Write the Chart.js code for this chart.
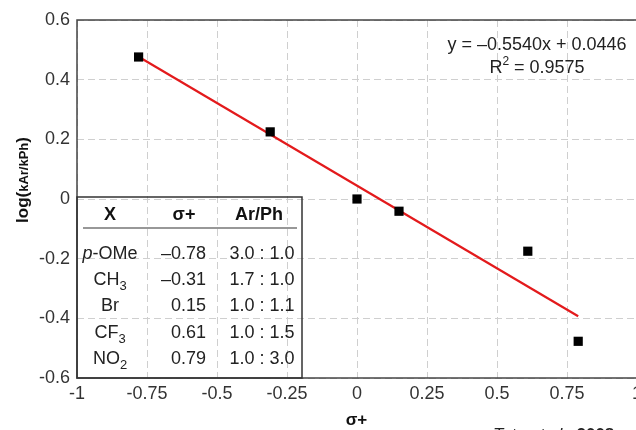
<!DOCTYPE html>
<html>
<head>
<meta charset="utf-8">
<script src="https://cdn.jsdelivr.net/npm/chart.js@4/dist/chart.umd.min.js"></script>
<style>
  html, body { margin: 0; padding: 0; overflow: hidden; background: #fff; }
  canvas { display: block; }
</style>
</head>
<body>
<canvas id="hammett" width="660" height="430"></canvas>
<script>
// measured points (sigma+ vs log(kAr/kPh))
var sigmaPlus = [-0.78, -0.31, 0, 0.15, 0.61, 0.79];
var logRatio = [0.476, 0.225, 0, -0.041, -0.175, -0.477];

// regression line ends
var fitX = [-0.78, 0.79];
var fitY = [0.477, -0.393];

var xTicks = [-1, -0.75, -0.5, -0.25, 0, 0.25, 0.5, 0.75, 1];
var yTicks = [-0.6, -0.4, -0.2, 0, 0.2, 0.4, 0.6];

// inset table
var tblHead = ['X', 'σ+', 'Ar/Ph'];
var tblX = [['p', '-OMe', ''], ['CH', '', '3'], ['Br', '', ''], ['CF', '', '3'], ['NO', '', '2']];
var tblSigma = ['–0.78', '–0.31', '0.15', '0.61', '0.79'];
var tblRatio = ['3.0 : 1.0', '1.7 : 1.0', '1.0 : 1.1', '1.0 : 1.5', '1.0 : 3.0'];

var FONT = '"Liberation Sans", Arial, sans-serif';

var extras = {
  id: 'extras',
  afterDraw: function (chart) {
    var c = chart.ctx, a = chart.chartArea;
    var xs = chart.scales.x, ys = chart.scales.y;
    c.save();

    // plot frame
    c.strokeStyle = '#444';
    c.lineWidth = 1.5;
    c.strokeRect(a.left, a.top, a.right - a.left, a.bottom - a.top);

    // equation
    c.fillStyle = '#222';
    c.font = '18px ' + FONT;
    c.textAlign = 'center';
    c.textBaseline = 'alphabetic';
    c.fillText('y = –0.5540x + 0.0446', 537, 50);
    var w1 = c.measureText('R').width, w2 = c.measureText(' = 0.9575').width;
    c.font = '12px ' + FONT;
    var ws = c.measureText('2').width;
    var sx = 537 - (w1 + ws + w2) / 2;
    c.textAlign = 'left';
    c.font = '18px ' + FONT;
    c.fillText('R', sx, 73);
    c.font = '12px ' + FONT;
    c.fillText('2', sx + w1, 65);
    c.font = '18px ' + FONT;
    c.fillText(' = 0.9575', sx + w1 + ws, 73);

    // inset table
    var tl = a.left, tt = ys.getPixelForValue(0) - 2, tr = 302, tb = a.bottom;
    c.strokeStyle = '#333';
    c.lineWidth = 1.5;
    c.strokeRect(tl, tt, tr - tl, tb - tt);
    c.lineWidth = 1.2;
    c.beginPath();
    c.moveTo(83, 228); c.lineTo(297, 228);
    c.stroke();

    c.fillStyle = '#111';
    c.font = 'bold 18px ' + FONT;
    c.textAlign = 'center';
    c.fillText(tblHead[0], 110, 220);
    c.fillText(tblHead[1], 184, 220);
    c.fillText(tblHead[2], 259, 220);

    c.fillStyle = '#222';
    for (var i = 0; i < tblX.length; i++) {
      var y = 259 + i * 26.2;
      var parts = tblX[i];
      c.font = (i === 0 ? 'italic ' : '') + '18px ' + FONT;
      var wa = c.measureText(parts[0]).width;
      c.font = '18px ' + FONT;
      var wb = c.measureText(parts[1]).width;
      c.font = '13px ' + FONT;
      var wc = c.measureText(parts[2]).width;
      var x0 = 110 - (wa + wb + wc) / 2;
      c.textAlign = 'left';
      c.font = (i === 0 ? 'italic ' : '') + '18px ' + FONT;
      c.fillText(parts[0], x0, y);
      c.font = '18px ' + FONT;
      c.fillText(parts[1], x0 + wa, y);
      c.font = '13px ' + FONT;
      c.fillText(parts[2], x0 + wa + wb, y + 5);

      c.font = '18px ' + FONT;
      c.textAlign = 'right';
      c.fillText(tblSigma[i], 206, y);
      c.textAlign = 'center';
      c.fillText(tblRatio[i], 262, y);
    }

    // y axis title with small kAr / kPh
    c.save();
    c.translate(28, 180);
    c.rotate(-Math.PI / 2);
    var segs = [['log(', 17], ['kAr/kPh', 13], [')', 17]];
    var tw = 0;
    segs.forEach(function (s) { c.font = 'bold ' + s[1] + 'px ' + FONT; tw += c.measureText(s[0]).width; });
    var px = -tw / 2;
    c.textAlign = 'left';
    c.fillStyle = '#111';
    segs.forEach(function (s) {
      c.font = 'bold ' + s[1] + 'px ' + FONT;
      c.fillText(s[0], px, 0);
      px += c.measureText(s[0]).width;
    });
    c.restore();

    // x axis title
    c.font = 'bold 17px ' + FONT;
    c.textAlign = 'center';
    c.fillStyle = '#111';
    c.fillText('σ+', xs.getPixelForValue(0) - 0.5, 425);

    // source note (cut off at the bottom edge)
    c.textAlign = 'left';
    c.fillStyle = '#222';
    c.font = 'italic 17px ' + FONT;
    c.fillText('Tate et al., ', 493, 440);
    var wn = c.measureText('Tate et al., ').width;
    c.font = 'bold 17px ' + FONT;
    c.fillText('2008', 493 + wn, 440);

    c.restore();
  }
};

var ctx = document.getElementById('hammett').getContext('2d');
var chart = new Chart(ctx, {
  type: 'scatter',
  data: {
    datasets: [{
      label: 'data',
      data: sigmaPlus.map(function (x, i) { return { x: x, y: logRatio[i] }; }),
      pointStyle: 'rect',
      radius: 6.5,
      backgroundColor: '#000',
      borderColor: '#000',
      borderWidth: 0,
      order: 1,
    }, {
      label: 'fit',
      type: 'line',
      data: fitX.map(function (x, i) { return { x: x, y: fitY[i] }; }),
      borderColor: '#e31a1c',
      borderWidth: 2.2,
      pointRadius: 0,
      fill: false,
      order: 2,
    }],
  },
  options: {
    responsive: false,
    animation: false,
    layout: { padding: { top: 20, right: 23, left: 0, bottom: 0 } },
    plugins: {
      legend: { display: false },
      tooltip: { enabled: false },
    },
    scales: {
      x: {
        type: 'linear',
        min: -1,
        max: 1,
        afterBuildTicks: function (s) { s.ticks = xTicks.map(function (v) { return { value: v }; }); },
        afterFit: function (s) { s.height = 52; },
        ticks: {
          color: '#333',
          font: { family: FONT, size: 18 },
          padding: 5,
          maxRotation: 0,
          callback: function (v) { return String(v); },
        },
        grid: { color: '#cfcfcf', lineWidth: 1, drawTicks: false },
        border: { display: false, dash: [7, 4] },
      },
      y: {
        min: -0.6,
        max: 0.6,
        afterBuildTicks: function (s) { s.ticks = yTicks.map(function (v) { return { value: v }; }); },
        afterFit: function (s) { s.width = 77; },
        ticks: {
          color: '#333',
          font: { family: FONT, size: 18 },
          padding: 7,
          callback: function (v) { return String(Math.round(v * 10) / 10); },
        },
        grid: { color: '#cfcfcf', lineWidth: 1, drawTicks: false },
        border: { display: false, dash: [7, 4] },
      },
    },
  },
  plugins: [extras],
});
</script>
</body>
</html>
